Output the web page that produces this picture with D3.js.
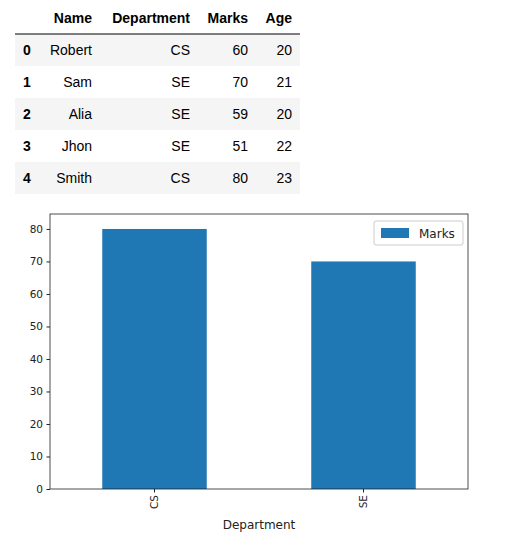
<!DOCTYPE html>
<html><head><meta charset="utf-8">
<script src="https://cdn.jsdelivr.net/npm/d3@7"></script>
<style>body{margin:0;background:#fff;font-family:"DejaVu Sans",Arial,sans-serif}</style>
</head><body><svg id="c" width="505" height="546"></svg>
<script>
const tableCols = ["Name","Department","Marks","Age"];
const names = ["Robert","Sam","Alia","Jhon","Smith"];
const depts = ["CS","SE","SE","SE","CS"];
const marks = [60,70,59,51,80];
const ages = [20,21,20,22,23];
const categories = ["CS","SE"];
const maxMarks = [80,70];
const yTicks = [0,10,20,30,40,50,60,70,80];

const svg = d3.select("#c");
// table
const tf = "Liberation Sans, Arial, sans-serif";
const colRight = [null,92,190,248,292];
const rowH = 32, top0 = 2;
const t = svg.append("g").attr("font-family", tf).attr("font-size", 14);
names.forEach((n,i)=>{
  const y = top0 + rowH*(i+1);
  if(i%2===0) t.append("rect").attr("x",15).attr("y",y).attr("width",285).attr("height",rowH).attr("fill","#f5f5f5");
  const cy = y+rowH/2+5;
  t.append("text").attr("x",23).attr("y",cy).attr("font-weight","bold").text(i);
  [n,depts[i],marks[i],ages[i]].forEach((v,j)=>t.append("text").attr("x",colRight[j+1]).attr("y",cy).attr("text-anchor","end").text(v));
});
tableCols.forEach((c,j)=>t.append("text").attr("x",colRight[j+1]).attr("y",top0+rowH/2+5).attr("text-anchor","end").attr("font-weight","bold").text(c));
t.append("line").attr("x1",15).attr("x2",300).attr("y1",top0+rowH).attr("y2",top0+rowH).attr("stroke","#000").attr("stroke-width",1);

// chart
const L=50,R=468,T=214,B=489;
const x = d3.scaleBand().domain(categories).range([L,R]).paddingInner(0.5).paddingOuter(0.25);
const y = d3.scaleLinear().domain([0,84.6]).range([B,T]);
const g = svg.append("g").attr("font-family","DejaVu Sans, sans-serif").attr("font-size",10.5).attr("fill","#222");
g.selectAll(".bar").data(categories).enter().append("rect")
 .attr("x",d=>x(d)).attr("width",x.bandwidth())
 .attr("y",(d,i)=>y(maxMarks[i])).attr("height",(d,i)=>B-y(maxMarks[i])).attr("fill","#1f77b4");
const ya = g.append("g").attr("transform",`translate(${L},0)`).call(d3.axisLeft(y).tickValues(yTicks).tickSize(3.5).tickPadding(3.5));
const xa = g.append("g").attr("transform",`translate(0,${B})`).call(d3.axisBottom(x).tickSize(3.5));
[ya,xa].forEach(a=>{a.select(".domain").remove();a.selectAll("text").attr("font-family","DejaVu Sans, sans-serif").attr("font-size",10.5).attr("fill","#222");a.selectAll("line").attr("stroke","#222");});
xa.selectAll("text").attr("transform","rotate(-90)").attr("text-anchor","end").attr("dy","0.35em").attr("x",-6).attr("y",0);
g.append("rect").attr("x",L).attr("y",T).attr("width",R-L).attr("height",B-T).attr("fill","none").attr("stroke","#222").attr("stroke-width",0.8);
g.append("text").attr("x",(L+R)/2).attr("y",529).attr("text-anchor","middle").attr("font-size",12).text("Department");
const lg = g.append("g");
lg.append("rect").attr("x",374).attr("y",221).attr("width",89).attr("height",24).attr("rx",2).attr("fill","#fff").attr("stroke","#ccc");
lg.append("rect").attr("x",381).attr("y",228).attr("width",28).attr("height",10).attr("fill","#1f77b4");
lg.append("text").attr("x",419).attr("y",237.5).attr("font-size",12).text("Marks");
</script></body></html>
